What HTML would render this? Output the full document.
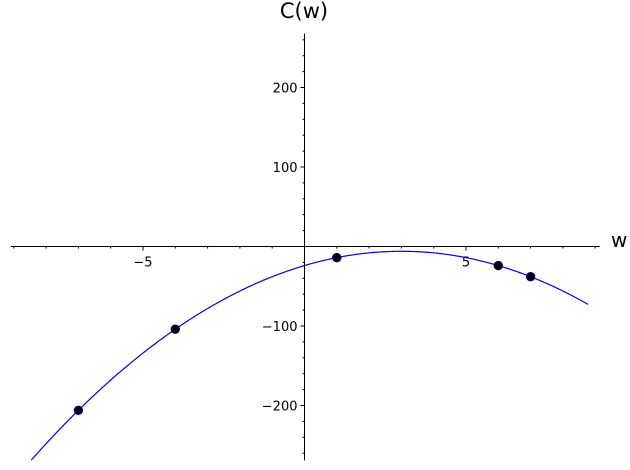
<!DOCTYPE html>
<html><head><meta charset="utf-8"><style>
html,body{margin:0;padding:0;background:#fff;width:630px;height:470px;overflow:hidden}
text{font-family:"DejaVu Sans","Liberation Sans",sans-serif}
</style></head><body>
<svg id="chart" width="630" height="470" viewBox="0 0 630 470" xmlns="http://www.w3.org/2000/svg"></svg>
<script>
const pointW = [-7, -4, 1, 6, 7];
const pointC = [-206, -104, -14, -24, -38];
const curveCoeffs = [-2, 12, -24]; // C(w) = a w^2 + b w + c
const xTickLabels = [-5, 5];
const yTickLabels = [-200, -100, 100, 200];

const NS = 'http://www.w3.org/2000/svg';
const svg = document.getElementById('chart');
const x0 = 304.5, xs = 32.3;
const y0 = 246.5, ys = 0.795;
const X = w => x0 + w * xs;
const Y = c => y0 - c * ys;
const wMin = -9.1, wMax = 9.14, cMin = -269, cMax = 268;

function el(tag, attrs, parent) {
  const e = document.createElementNS(NS, tag);
  for (const k in attrs) e.setAttribute(k, attrs[k]);
  (parent || svg).appendChild(e);
  return e;
}

const axes = el('g', {});


const xa = el('line', {x1: X(wMin), x2: X(wMax), y1: y0, y2: y0, stroke: '#000', 'stroke-width': 1}, axes);


const ya = el('line', {x1: x0, x2: x0, y1: Y(cMax), y2: Y(cMin), stroke: '#000', 'stroke-width': 1}, axes);



for (let w = -9; w <= 9; w++) {
  if (w === 0) continue;
  const major = w % 5 === 0;
  const t = el('line', {x1: X(w), x2: X(w), y1: y0, y2: y0 + (major ? 4 : 2), stroke: '#000', 'stroke-width': 1}, axes);
  
  
}
for (let c = -260; c <= 260; c += 20) {
  if (c === 0) continue;
  const major = c % 100 === 0;
  const t = el('line', {x1: x0 - (major ? 4 : 2), x2: x0, y1: Y(c), y2: Y(c), stroke: '#000', 'stroke-width': 1}, axes);
  
  
}
xTickLabels.forEach(v => {
  const t = el('text', {x: X(v), y: y0 + 20, 'text-anchor': 'middle', 'font-size': 13}, axes);
  t.textContent = v < 0 ? '\u2212' + Math.abs(v) : String(v);
  
  
});
yTickLabels.forEach(v => {
  const t = el('text', {x: x0 - 7, y: Y(v) + 5, 'text-anchor': 'end', 'font-size': 13}, axes);
  t.textContent = v < 0 ? '\u2212' + Math.abs(v) : String(v);
  
  
});
const xt = el('text', {x: 611, y: 247, 'font-size': 20}, axes);
xt.textContent = 'w';


const yt = el('text', {x: 304, y: 18, 'text-anchor': 'middle', 'font-size': 21}, axes);
yt.textContent = 'C(w)';



const f = w => curveCoeffs[0] * w * w + curveCoeffs[1] * w + curveCoeffs[2];
let d = '';
const wStart = -8.46, wEnd = 8.78;
for (let i = 0; i <= 300; i++) {
  const w = wStart + (wEnd - wStart) * i / 300;
  d += (i ? 'L' : 'M') + X(w).toFixed(2) + ',' + Y(f(w)).toFixed(2);
}
const curve = el('path', {d: d, fill: 'none', stroke: '#0000ff', 'stroke-width': 1.2});



pointW.forEach((w, i) => {
  const p = el('circle', {cx: X(w), cy: Y(pointC[i]), r: 4.3, fill: '#000', stroke: '#00008b', 'stroke-width': 0.8});
  
  
});
</script>
</body></html>
